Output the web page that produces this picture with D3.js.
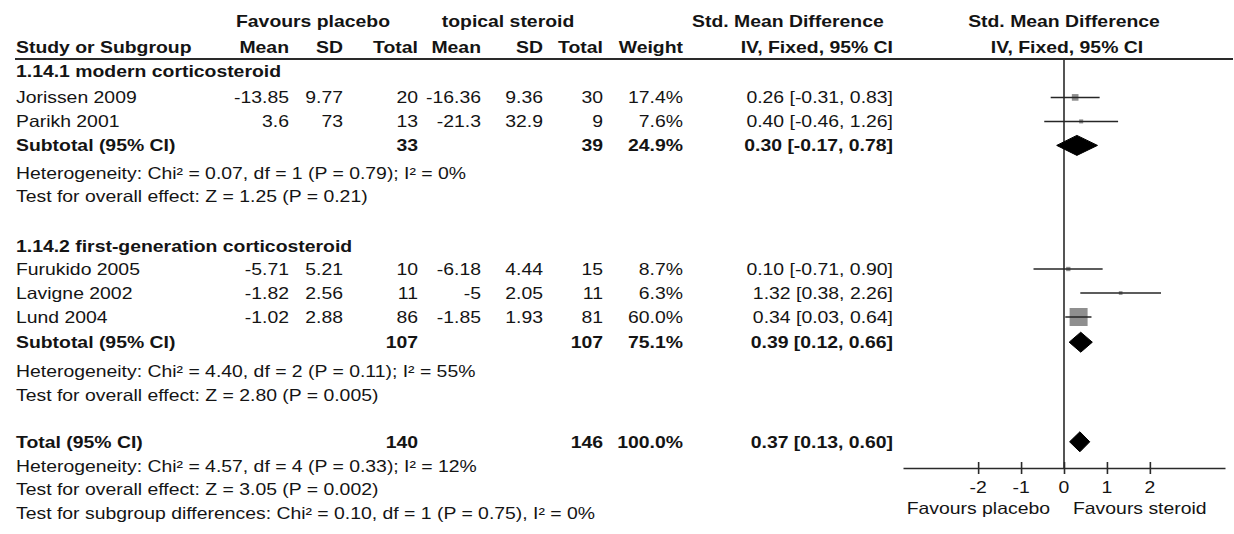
<!DOCTYPE html>
<html>
<head>
<meta charset="utf-8">
<script src="https://cdn.jsdelivr.net/npm/d3@7/dist/d3.min.js"></script>
<style>
  html, body { margin: 0; padding: 0; background: #fff; }
  svg { display: block; }
  text { font-family: "Liberation Sans", Arial, Helvetica, sans-serif; fill: #141414; }
</style>
</head>
<body>
<svg id="chart" width="1234" height="534"></svg>
<script>
// ---------------- DATA ----------------
const groupNames = ["1.14.1 modern corticosteroid", "1.14.2 first-generation corticosteroid"];
const studyNames = ["Jorissen 2009", "Parikh 2001", "Furukido 2005", "Lavigne 2002", "Lund 2004"];
const studyGroup = [0, 0, 1, 1, 1];
const placeboMean = [-13.85, 3.6, -5.71, -1.82, -1.02];
const placeboSD = [9.77, 73, 5.21, 2.56, 2.88];
const placeboN = [20, 13, 10, 11, 86];
const steroidMean = [-16.36, -21.3, -6.18, -5, -1.85];
const steroidSD = [9.36, 32.9, 4.44, 2.05, 1.93];
const steroidN = [30, 9, 15, 11, 81];
const studyWeight = [17.4, 7.6, 8.7, 6.3, 60.0];
const studySMD = [0.26, 0.40, 0.10, 1.32, 0.34];
const studyLow = [-0.31, -0.46, -0.71, 0.38, 0.03];
const studyHigh = [0.83, 1.26, 0.90, 2.26, 0.64];

const subPlaceboN = [33, 107];
const subSteroidN = [39, 107];
const subWeight = [24.9, 75.1];
const subSMD = [0.30, 0.39];
const subLow = [-0.17, 0.12];
const subHigh = [0.78, 0.66];
const subHetText = ["Heterogeneity: Chi² = 0.07, df = 1 (P = 0.79); I² = 0%",
                    "Heterogeneity: Chi² = 4.40, df = 2 (P = 0.11); I² = 55%"];
const subTestText = ["Test for overall effect: Z = 1.25 (P = 0.21)",
                     "Test for overall effect: Z = 2.80 (P = 0.005)"];

const totalPlaceboN = 140;
const totalSteroidN = 146;
const totalWeight = 100.0;
const totalSMD = 0.37;
const totalLow = 0.13;
const totalHigh = 0.60;
const totalFooter = ["Heterogeneity: Chi² = 4.57, df = 4 (P = 0.33); I² = 12%",
                     "Test for overall effect: Z = 3.05 (P = 0.002)",
                     "Test for subgroup differences: Chi² = 0.10, df = 1 (P = 0.75), I² = 0%"];

const axisTicks = [-2, -1, 0, 1, 2];
const axisDomain = [-3.75, 3.75];
const leftLabel = "Favours placebo";
const rightLabel = "Favours steroid";

// ---------------- LAYOUT ----------------
const svg = d3.select("#chart");
const FS = 16.5, SX = 1.175;

function txt(x, y, s, opt = {}) {
  const size = opt.size || FS;
  svg.append("text")
    .attr("transform", `translate(${x},${y + size * 0.358}) scale(${SX},1)`)
    .attr("text-anchor", opt.anchor || "start")
    .attr("font-size", size)
    .attr("font-weight", opt.bold ? "bold" : "normal")
    .text(s);
}

// columns (right edges)
const col = { name: 16, pm: 289, psd: 343, pn: 418, sm: 481, ssd: 543, sn: 603, w: 683, ci: 893 };

// forest scale
const x = d3.scaleLinear().domain(axisDomain).range([903, 1225]);
const x0 = x(0);

// row positions (line index -> y)
const y = d3.scaleLinear().domain([0, 1]).range([71, 95]);
const headerY1 = 21, headerY2 = 47, ruleY = 59, axisY = 468;

const rows = [
  { t: "group", g: 0, line: 0 },
  { t: "study", i: 0, line: 1.1 },
  { t: "study", i: 1, line: 2.1 },
  { t: "sub", g: 0, line: 3.1 },
  { t: "het", g: 0, line: 4.25 },
  { t: "test", g: 0, line: 5.2 },
  { t: "group", g: 1, line: 7.3 },
  { t: "study", i: 2, line: 8.25 },
  { t: "study", i: 3, line: 9.25 },
  { t: "study", i: 4, line: 10.25 },
  { t: "sub", g: 1, line: 11.3 },
  { t: "het", g: 1, line: 12.5 },
  { t: "test", g: 1, line: 13.5 },
  { t: "total", line: 15.45 },
  { t: "foot", k: 0, line: 16.45 },
  { t: "foot", k: 1, line: 17.4 },
  { t: "foot", k: 2, line: 18.4 }
];

const f2 = v => v.toFixed(2);
const f1 = v => v.toFixed(1);
const ciStr = (m, l, h) => `${f2(m)} [${f2(l)}, ${f2(h)}]`;

// ---------------- HEADER ----------------
txt(313, headerY1, "Favours placebo", { anchor: "middle", bold: true });
txt(508, headerY1, "topical steroid", { anchor: "middle", bold: true });
txt(692, headerY1, "Std. Mean Difference", { bold: true });
txt(x0, headerY1, "Std. Mean Difference", { anchor: "middle", bold: true });

txt(col.name, headerY2, "Study or Subgroup", { bold: true });
txt(col.pm, headerY2, "Mean", { anchor: "end", bold: true });
txt(col.psd, headerY2, "SD", { anchor: "end", bold: true });
txt(col.pn, headerY2, "Total", { anchor: "end", bold: true });
txt(col.sm, headerY2, "Mean", { anchor: "end", bold: true });
txt(col.ssd, headerY2, "SD", { anchor: "end", bold: true });
txt(col.sn, headerY2, "Total", { anchor: "end", bold: true });
txt(col.w, headerY2, "Weight", { anchor: "end", bold: true });
txt(col.ci, headerY2, "IV, Fixed, 95% CI", { anchor: "end", bold: true });
txt(x0 + 3, headerY2, "IV, Fixed, 95% CI", { anchor: "middle", bold: true });

svg.append("line")
  .attr("x1", 15).attr("x2", 1233)
  .attr("y1", ruleY).attr("y2", ruleY)
  .attr("stroke", "#2a2a2a").attr("stroke-width", 2);

// zero line
svg.append("line")
  .attr("x1", x0).attr("x2", x0)
  .attr("y1", ruleY).attr("y2", axisY)
  .attr("stroke", "#2a2a2a").attr("stroke-width", 1.6);

// square size scale
const sq = d3.scaleLinear().domain([0, 60]).range([2, 18]);

function diamond(m, l, h, cy) {
  const hh = 10;
  const pts = [[x(l), cy], [x(m), cy - hh], [x(h), cy], [x(m), cy + hh]];
  svg.append("path")
    .attr("d", d3.line()(pts) + "Z")
    .attr("fill", "#000").attr("stroke", "#000").attr("stroke-width", 1);
}

// ---------------- ROWS ----------------
rows.forEach(r => {
  const cy = y(r.line);
  if (r.t === "group") {
    txt(col.name, cy, groupNames[r.g], { bold: true });
  } else if (r.t === "study") {
    const i = r.i;
    txt(col.name, cy, studyNames[i]);
    txt(col.pm, cy, String(placeboMean[i]), { anchor: "end" });
    txt(col.psd, cy, String(placeboSD[i]), { anchor: "end" });
    txt(col.pn, cy, String(placeboN[i]), { anchor: "end" });
    txt(col.sm, cy, String(steroidMean[i]), { anchor: "end" });
    txt(col.ssd, cy, String(steroidSD[i]), { anchor: "end" });
    txt(col.sn, cy, String(steroidN[i]), { anchor: "end" });
    txt(col.w, cy, f1(studyWeight[i]) + "%", { anchor: "end" });
    txt(col.ci, cy, ciStr(studySMD[i], studyLow[i], studyHigh[i]), { anchor: "end" });
    const s = sq(studyWeight[i]);
    svg.append("rect")
      .attr("x", x(studySMD[i]) - s / 2).attr("y", cy - s / 2)
      .attr("width", s).attr("height", s)
      .attr("fill", "#8f8f8f");
    svg.append("line")
      .attr("x1", x(studyLow[i])).attr("x2", x(studyHigh[i]))
      .attr("y1", cy).attr("y2", cy)
      .attr("stroke", "#262626").attr("stroke-width", 1.5);
  } else if (r.t === "sub") {
    const g = r.g;
    txt(col.name, cy, "Subtotal (95% CI)", { bold: true });
    txt(col.pn, cy, String(subPlaceboN[g]), { anchor: "end", bold: true });
    txt(col.sn, cy, String(subSteroidN[g]), { anchor: "end", bold: true });
    txt(col.w, cy, f1(subWeight[g]) + "%", { anchor: "end", bold: true });
    txt(col.ci, cy, ciStr(subSMD[g], subLow[g], subHigh[g]), { anchor: "end", bold: true });
    diamond(subSMD[g], subLow[g], subHigh[g], cy);
  } else if (r.t === "het") {
    txt(col.name, cy, subHetText[r.g]);
  } else if (r.t === "test") {
    txt(col.name, cy, subTestText[r.g]);
  } else if (r.t === "total") {
    txt(col.name, cy, "Total (95% CI)", { bold: true });
    txt(col.pn, cy, String(totalPlaceboN), { anchor: "end", bold: true });
    txt(col.sn, cy, String(totalSteroidN), { anchor: "end", bold: true });
    txt(col.w, cy, f1(totalWeight) + "%", { anchor: "end", bold: true });
    txt(col.ci, cy, ciStr(totalSMD, totalLow, totalHigh), { anchor: "end", bold: true });
    diamond(totalSMD, totalLow, totalHigh, cy);
  } else if (r.t === "foot") {
    txt(col.name, cy, totalFooter[r.k]);
  }
});

// ---------------- AXIS ----------------
const axis = d3.axisBottom(x).tickValues(axisTicks).tickSize(0).tickFormat(d3.format("d"));
const ag = svg.append("g").attr("transform", `translate(0,${axisY})`).call(axis);
ag.select(".domain").attr("stroke", "#2a2a2a").attr("stroke-width", 1.6);
ag.selectAll(".tick text").remove();
ag.selectAll(".tick").append("line")
  .attr("y1", -6).attr("y2", 6)
  .attr("stroke", "#2a2a2a").attr("stroke-width", 1.6);
axisTicks.forEach(t => {
  txt(x(t), 487, String(t), { anchor: "middle" });
});
txt(x0 - 14, 508, leftLabel, { anchor: "end" });
txt(x0 + 9, 508, rightLabel, { anchor: "start" });
</script>
</body>
</html>
